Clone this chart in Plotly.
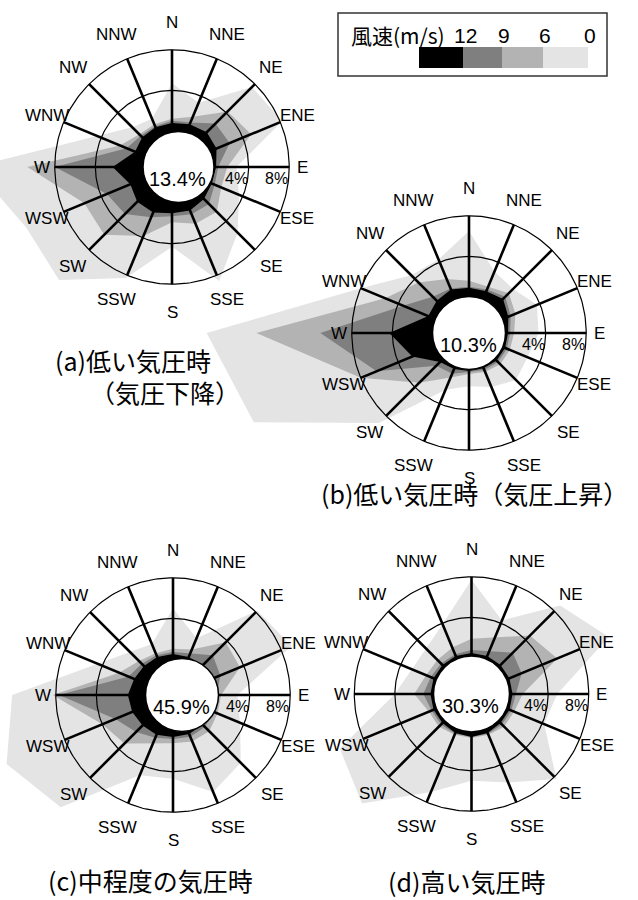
import numpy as np
import plotly.graph_objects as go

# ---------------- data ----------------
directions = ["N", "NNE", "NE", "ENE", "E", "ESE", "SE", "SSE",
              "S", "SSW", "SW", "WSW", "W", "WNW", "NW", "NNW"]

speed_labels = ["12", "9", "6", "0"]          # legend (m/s)
speed_colors = ["#000000", "#7f7f7f", "#b3b3b3", "#e4e4e4"]
ring_values = [4, 8]
ring_labels = ["4%", "8%"]

# cumulative frequency (%) of wind speed >= 0, 6, 9, 12 m/s for each direction
a_ge0 = [4.7, 3.3, 7.6, 8.2, 2.8, 3.6, 5.6, 8.6, 4.3, 8.3, 12.2, 12.0, 16.0, 4.5, 2.0, 1.6]
a_ge6 = [1.2, 1.8, 4.2, 4.9, 1.9, 1.7, 2.7, 2.5, 1.9, 3.8, 5.9, 5.8, 10.7, 2.0, 1.0, 1.0]
a_ge9 = [1.0, 1.2, 2.5, 2.6, 1.0, 1.0, 1.6, 1.5, 1.3, 1.8, 3.0, 3.4, 8.0, 1.3, 0.8, 0.8]
a_ge12 = [0.8, 1.0, 1.3, 1.2, 0.8, 0.7, 0.9, 1.1, 1.0, 1.3, 1.3, 0.9, 2.3, 0.4, 0.6, 0.7]
a_calm = "13.4%"

b_ge0 = [6.5, 3.0, 2.6, 3.7, 3.3, 2.7, 3.0, 2.2, 1.7, 2.5, 9.0, 19.4, 22.3, 8.0, 4.5, 4.3]
b_ge6 = [1.6, 1.4, 2.0, 1.4, 0.9, 0.8, 0.8, 0.6, 0.5, 1.2, 3.4, 8.0, 17.4, 5.4, 3.5, 2.2]
b_ge9 = [1.0, 1.1, 1.5, 0.9, 0.5, 0.5, 0.5, 0.4, 0.3, 0.8, 1.0, 6.3, 11.1, 3.5, 1.5, 1.2]
b_ge12 = [0.9, 0.9, 1.2, 0.65, 0.3, 0.3, 0.3, 0.2, 0.2, 0.3, 0.5, 2.5, 4.3, 0.8, 0.95, 1.1]
b_calm = "10.3%"

c_ge0 = [5.0, 2.5, 8.2, 9.1, 2.8, 3.6, 5.9, 6.8, 4.7, 5.0, 12.1, 14.2, 12.3, 4.5, 2.4, 1.9]
c_ge6 = [1.0, 1.3, 3.8, 3.6, 1.2, 1.2, 1.5, 1.4, 1.2, 1.6, 3.2, 4.0, 8.3, 2.2, 1.2, 0.9]
c_ge9 = [0.7, 0.9, 2.0, 1.5, 0.8, 0.8, 0.9, 0.9, 0.8, 1.0, 1.6, 2.6, 7.7, 1.2, 0.8, 0.7]
c_ge12 = [0.5, 0.5, 0.6, 0.6, 0.5, 0.5, 0.6, 0.6, 0.6, 0.7, 0.7, 0.8, 0.9, 0.6, 0.5, 0.5]
c_calm = "45.9%"

d_ge0 = [7.7, 4.3, 8.8, 11.1, 4.9, 4.2, 8.3, 5.9, 5.0, 6.9, 11.7, 10.5, 4.0, 2.8, 2.8, 3.9]
d_ge6 = [1.9, 2.5, 4.6, 5.6, 1.5, 1.0, 1.0, 0.8, 0.8, 0.8, 1.0, 1.0, 2.1, 1.3, 1.2, 1.4]
d_ge9 = [0.8, 1.0, 2.2, 1.8, 0.8, 0.7, 0.7, 0.7, 0.7, 0.7, 0.7, 0.7, 1.2, 0.8, 0.7, 0.7]
d_ge12 = [0.5, 0.5, 0.5, 0.5, 0.5, 0.5, 0.5, 0.6, 0.7, 0.6, 0.5, 0.5, 0.5, 0.5, 0.5, 0.5]
d_calm = "30.3%"

titles = [["(a)低い気圧時", "（気圧下降）"],
          ["(b)低い気圧時（気圧上昇）"],
          ["(c)中程度の気圧時"],
          ["(d)高い気圧時"]]

# ---------------- layout constants ----------------
W, H = 638, 900
R0 = 36.0      # radius (px) of the 0 % level
K = 10.15      # px per %
roses = [
    dict(levels=[a_ge0, a_ge6, a_ge9, a_ge12], calm=a_calm, cx=172, cy=167,
         hole_dx=6.5, hole_r=35.5,
         title_pos=[(133, 360), (165, 392)]),
    dict(levels=[b_ge0, b_ge6, b_ge9, b_ge12], calm=b_calm, cx=469, cy=333,
         hole_dx=0, hole_r=36.5, title_pos=[(474, 493)]),
    dict(levels=[c_ge0, c_ge6, c_ge9, c_ge12], calm=c_calm, cx=173, cy=695,
         hole_dx=9, hole_r=36.5, title_pos=[(150, 880)]),
    dict(levels=[d_ge0, d_ge6, d_ge9, d_ge12], calm=d_calm, cx=471.5, cy=694,
         hole_dx=0, hole_r=38, title_pos=[(466, 881)]),
]
level_colors = speed_colors[::-1]   # >=0 light ... >=12 black

LAT = "Liberation Sans, Arial, sans-serif"
CJK = "Noto Sans CJK JP, sans-serif"

theta = np.deg2rad(np.arange(len(directions)) * 360.0 / len(directions))


def to_xy(cx, cy, pct, ang):
    r = R0 + np.asarray(pct, dtype=float) * K
    return cx + r * np.sin(ang), cy - r * np.cos(ang)


fig = go.Figure()
shapes = []
annotations = []

circ = np.linspace(0, 2 * np.pi, 241)

for rose, ttl in zip(roses, titles):
    cx, cy = rose["cx"], rose["cy"]
    # filled speed-class polygons
    for vals, col in zip(rose["levels"], level_colors):
        x, y = to_xy(cx, cy, vals, theta)
        fig.add_trace(go.Scatter(
            x=np.append(x, x[0]), y=np.append(y, y[0]), mode="lines",
            fill="toself", fillcolor=col, line=dict(width=0, color=col),
            hoverinfo="skip"))
    # rings
    for rv in ring_values:
        x, y = to_xy(cx, cy, np.full(circ.size, rv), circ)
        fig.add_trace(go.Scatter(x=x, y=y, mode="lines",
                                 line=dict(color="black", width=1.2),
                                 hoverinfo="skip"))
    # spokes
    sx, sy = [], []
    for t in theta:
        x0, y0 = to_xy(cx, cy, -R0 / K, t)
        x1, y1 = to_xy(cx, cy, max(ring_values), t)
        sx += [x0, x1, None]
        sy += [y0, y1, None]
    fig.add_trace(go.Scatter(x=sx, y=sy, mode="lines",
                             line=dict(color="black", width=2.6),
                             hoverinfo="skip"))
    # central (calm) circle
    hx = cx + rose["hole_dx"]
    hr = rose["hole_r"]
    shapes.append(dict(type="circle", xref="x", yref="y",
                       x0=hx - hr, x1=hx + hr, y0=cy - hr, y1=cy + hr,
                       fillcolor="white", line=dict(color="black", width=1.5),
                       layer="above"))
    annotations.append(dict(x=hx - 1, y=cy + 12, text=rose["calm"], showarrow=False,
                            xanchor="center", yanchor="middle",
                            font=dict(family=LAT, size=20, color="black")))
    # ring labels
    for rv, rl in zip(ring_values, ring_labels):
        x, y = to_xy(cx, cy, rv, np.pi / 2)
        annotations.append(dict(x=x + 1, y=cy + 1, text=rl, showarrow=False,
                                xanchor="right", yanchor="top",
                                font=dict(family=LAT, size=16, color="black")))
    # direction labels
    for name, t in zip(directions, theta):
        rl = 130 + 15 * abs(np.cos(t))
        annotations.append(dict(x=cx + rl * np.sin(t), y=cy - rl * np.cos(t),
                                text=name, showarrow=False,
                                xanchor="center", yanchor="middle",
                                font=dict(family=LAT, size=17, color="black")))
    # titles
    for line, (tx, ty) in zip(ttl, rose["title_pos"]):
        annotations.append(dict(x=tx, y=ty, text=line, showarrow=False,
                                xanchor="center", yanchor="middle",
                                font=dict(family=CJK, size=25, color="black")))

# legend box
shapes.append(dict(type="rect", xref="x", yref="y", x0=338, x1=607, y0=13, y1=76,
                   fillcolor="white", line=dict(color="#333333", width=1.5),
                   layer="above"))
edges = [419, 463, 502, 543, 588]
for i, (lab, col) in enumerate(zip(speed_labels, speed_colors)):
    shapes.append(dict(type="rect", xref="x", yref="y",
                       x0=edges[i], x1=edges[i + 1], y0=47, y1=68,
                       fillcolor=col, line=dict(width=0), layer="above"))
    annotations.append(dict(x=edges[i + 1] + 2, y=35, text=lab, showarrow=False,
                            xanchor="center", yanchor="middle",
                            font=dict(family=LAT, size=21, color="black")))
annotations.append(dict(x=349, y=35, text="風速(m/s)", showarrow=False,
                        xanchor="left", yanchor="middle",
                        font=dict(family=CJK, size=21, color="black")))

fig.update_layout(
    width=W, height=H, margin=dict(l=0, r=0, t=0, b=0),
    paper_bgcolor="white", plot_bgcolor="white", showlegend=False,
    xaxis=dict(range=[0, W], visible=False, fixedrange=True),
    yaxis=dict(range=[H, 0], visible=False, fixedrange=True),
    shapes=shapes, annotations=annotations,
)

fig.write_html("out.html")
